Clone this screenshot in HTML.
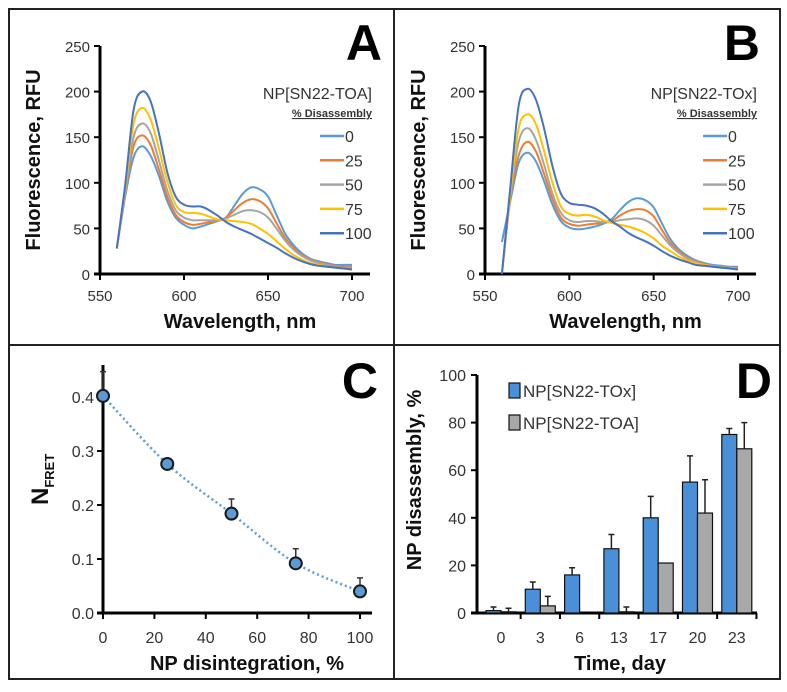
<!DOCTYPE html>
<html><head><meta charset="utf-8"><style>
html,body{margin:0;padding:0;background:#fff;}
svg{display:block;font-family:"Liberation Sans",sans-serif;}
.tk{font-size:15px;fill:#333;}
.nar{font-family:"Liberation Sans Narrow","Liberation Sans",sans-serif;font-size:16px;fill:#333;}
.ttl{font-size:20px;font-weight:bold;fill:#111;}
.big{font-size:50px;font-weight:bold;fill:#000;}
</style></head><body>
<svg id="fig" width="787" height="692" viewBox="0 0 787 692">
<rect x="9" y="9" width="771" height="670" fill="none" stroke="#222" stroke-width="2"/>
<line x1="394" y1="9" x2="394" y2="679" stroke="#222" stroke-width="2"/>
<line x1="9" y1="345" x2="780" y2="345" stroke="#222" stroke-width="2"/>
</svg>
<script>
const wl=[560,565,570,575,580,585,590,595,600,605,610,615,620,625,630,635,640,645,650,655,660,665,670,675,680,685,690,695,700];
const pctLabels=["0","25","50","75","100"];
const A0=[28,85,128,140,130,108,80,62,54,50,52,55,58,62,75,88,95,93,85,65,45,32,23,17,14,12,10,10,10];
const A25=[28,88,140,152,142,115,85,65,57,54,55,57,58,62,70,78,82,80,72,56,40,29,21,16,13,11,9,8,8];
const A50=[28,90,150,165,155,125,92,70,62,59,59,59,59,61,65,69,70,68,62,50,37,27,20,15,12,10,8,7,7];
const A75=[28,95,165,182,170,138,102,76,68,67,66,63,60,59,58,57,55,50,44,36,28,21,16,12,10,8,7,6,5];
const A100=[28,98,180,200,190,155,112,85,76,74,74,70,64,57,52,48,44,39,34,29,23,18,14,11,9,8,7,6,5];
const B0=[35,80,122,133,124,102,76,58,51,49,50,52,55,60,70,79,83,81,73,55,38,27,20,15,12,10,9,8,8];
const B25=[0,82,130,145,135,110,82,62,55,53,54,55,56,58,64,69,71,70,63,48,34,25,18,14,11,9,8,7,7];
const B50=[0,85,145,160,148,120,88,67,59,57,58,58,57,57,59,60,61,59,53,42,31,23,17,13,10,9,8,7,6];
const B75=[0,88,160,175,165,135,100,74,66,64,65,63,59,56,54,52,49,45,39,31,25,19,15,12,10,8,7,6,5];
const B100=[0,95,185,203,192,160,118,88,78,76,75,72,66,58,52,45,40,36,31,25,20,16,13,10,9,8,7,6,5];
const yTicksA=[0,50,100,150,200,250];
const xTicksA=[550,600,650,700];
const colors=["#5B9BD5","#ED7D31","#A5A5A5","#FFC000","#4472C4"];

const cDisint=[0,25,50,75,100];
const cNfret=[0.402,0.276,0.184,0.092,0.040];
const cErr=[0.045,0.005,0.027,0.027,0.025];
const cYTicks=[0.0,0.1,0.2,0.3,0.4];
const cYLabels=["0.0","0.1","0.2","0.3","0.4"];
const cXTicks=[0,20,40,60,80,100];

const dDays=["0","3","6","13","17","20","23"];
const dTOx=[1,10,16,27,40,55,75];
const dTOxErr=[1.5,3,3,6,9,11,2.5];
const dTOA=[0.5,3,0,0.5,21,42,69];
const dTOAErr=[1.5,4,0,2,0,14,11];
const dYTicks=[0,20,40,60,80,100];

const svg=document.getElementById('fig');
const NS='http://www.w3.org/2000/svg';
function mk(tag,attrs,txt){const e=document.createElementNS(NS,tag);for(const k in attrs)e.setAttribute(k,attrs[k]);if(txt!==undefined)e.textContent=txt;svg.appendChild(e);return e;}
function smooth(pts){
  let d='M'+pts[0][0].toFixed(1)+','+pts[0][1].toFixed(1);
  for(let i=0;i<pts.length-1;i++){
    const p0=pts[i-1]||pts[i],p1=pts[i],p2=pts[i+1],p3=pts[i+2]||p2;
    const c1=[p1[0]+(p2[0]-p0[0])/6,p1[1]+(p2[1]-p0[1])/6],c2=[p2[0]-(p3[0]-p1[0])/6,p2[1]-(p3[1]-p1[1])/6];
    d+=`C${c1[0].toFixed(1)},${c1[1].toFixed(1)} ${c2[0].toFixed(1)},${c2[1].toFixed(1)} ${p2[0].toFixed(1)},${p2[1].toFixed(1)}`;
  }
  return d;
}

function spectrum(ox,x1,title,series,letter,lx,lineX,letterX){
  const X=v=>ox+(v-550)*(x1-ox)/150, Y=v=>274-v*228/250;
  let e;
  e=mk('line',{x1:ox,y1:Y(250),x2:ox,y2:Y(0),stroke:'#000','stroke-width':3});
  
  
  e=mk('line',{x1:ox-6,y1:Y(0),x2:x1+18,y2:Y(0),stroke:'#000','stroke-width':3});
  
  
  yTicksA.forEach(t=>{
    e=mk('line',{x1:ox-6,y1:Y(t),x2:ox,y2:Y(t),stroke:'#000','stroke-width':2});
    
    
    e=mk('text',{x:ox-10,y:Y(t)+6,'text-anchor':'end',class:'tk'},t);
    
    
  });
  xTicksA.forEach(t=>{
    e=mk('line',{x1:X(t),y1:Y(0),x2:X(t),y2:Y(0)+6,stroke:'#000','stroke-width':2});
    
    
    e=mk('text',{x:X(t),y:Y(0)+27,'text-anchor':'middle',class:'tk'},t);
    
    
  });
  series.forEach((s,i)=>{
    const d=smooth(s.map((v,j)=>[X(wl[j]),Y(v)]));
    e=mk('path',{d:d,fill:'none',stroke:colors[i],'stroke-width':2,'stroke-linejoin':'round'});
    
    
    const ly=136+i*24.3;
    e=mk('line',{x1:lineX,y1:ly,x2:lineX+24,y2:ly,stroke:colors[i],'stroke-width':2.5});
    
    
    e=mk('text',{x:lineX+25,y:ly+6,class:'tk',style:'font-size:16px'},pctLabels[i]);
    
    
  });
  e=mk('text',{x:lx,y:99,'text-anchor':'end',class:'tk',style:'font-size:16px'},title);
  
  
  e=mk('text',{x:lx,y:117,'text-anchor':'end',class:'tk',style:'font-size:11px;font-weight:bold;text-decoration:underline'},'% Disassembly');
  
  
  e=mk('text',{x:(ox+x1)/2+14,y:328,'text-anchor':'middle',class:'ttl'},'Wavelength, nm');
  
  
  e=mk('text',{x:0,y:0,'text-anchor':'middle',class:'ttl',transform:`translate(${ox-60},160) rotate(-90)`},'Fluorescence, RFU');
  
  
  e=mk('text',{x:letterX,y:60,'text-anchor':'end',class:'big'},letter);
  
  
}
spectrum(100,352,'NP[SN22-TOA]',[A0,A25,A50,A75,A100],'A',372,320,382);
spectrum(485,738,'NP[SN22-TOx]',[B0,B25,B50,B75,B100],'B',757,703,760);

// Panel C
(function(){
  const ox=103,x1=360,X=v=>ox+v*(x1-ox)/100,Y=v=>613-v*540;
  let e;
  e=mk('line',{x1:ox,y1:Y(0.45)-5,x2:ox,y2:Y(0),stroke:'#000','stroke-width':3});
  
  
  e=mk('line',{x1:ox-6,y1:Y(0),x2:x1+12,y2:Y(0),stroke:'#000','stroke-width':3});
  
  
  cYTicks.forEach((t,i)=>{
    e=mk('line',{x1:ox-6,y1:Y(t),x2:ox,y2:Y(t),stroke:'#000','stroke-width':2});
    
    
    e=mk('text',{x:ox-9,y:Y(t)+6,'text-anchor':'end',class:'nar'},cYLabels[i]);
    
    
  });
  cXTicks.forEach(t=>{
    e=mk('line',{x1:X(t),y1:Y(0),x2:X(t),y2:Y(0)+6,stroke:'#000','stroke-width':2});
    
    
    e=mk('text',{x:X(t),y:Y(0)+30,'text-anchor':'middle',class:'nar'},t);
    
    
  });
  const d=smooth(cDisint.map((v,j)=>[X(v),Y(cNfret[j])]));
  e=mk('path',{d:d,fill:'none',stroke:'#5B9BD5','stroke-width':2.5,'stroke-dasharray':'2,3'});
  
  
  cDisint.forEach((v,j)=>{
    e=mk('path',{d:`M${X(v)},${Y(cNfret[j])}V${Y(cNfret[j]+cErr[j])}M${X(v)-3},${Y(cNfret[j]+cErr[j])}h6`,stroke:'#333','stroke-width':1.5});
    
    
    e=mk('circle',{cx:X(v),cy:Y(cNfret[j]),r:6,fill:'#5B9BD5',stroke:'#1a1a1a','stroke-width':2});
    
    
  });
  e=mk('text',{x:247,y:670,'text-anchor':'middle',class:'ttl'},'NP disintegration, %');
  
  
  const t=mk('text',{x:0,y:0,class:'ttl',transform:'translate(48,505) rotate(-90)',style:'font-size:24px'});
  t.innerHTML='N<tspan style="font-size:13px" dy="6">FRET</tspan>';
  
  
  e=mk('text',{x:378,y:398,'text-anchor':'end',class:'big'},'C');
  
  
})();

// Panel D
(function(){
  const ox=477,Y=v=>613-v*2.38,bw=15,sp=39.3,c0=501;
  const cx=i=>c0+i*sp;
  let e;
  e=mk('line',{x1:ox,y1:Y(100),x2:ox,y2:Y(0),stroke:'#000','stroke-width':3});
  
  
  e=mk('line',{x1:ox-6,y1:Y(0),x2:757,y2:Y(0),stroke:'#000','stroke-width':3});
  
  
  dYTicks.forEach(t=>{
    e=mk('line',{x1:ox-6,y1:Y(t),x2:ox,y2:Y(t),stroke:'#000','stroke-width':2});
    
    
    e=mk('text',{x:ox-11,y:Y(t)+6,'text-anchor':'end',class:'nar'},t);
    
    
  });
  dDays.forEach((d,i)=>{
    e=mk('line',{x1:cx(i)+sp/2,y1:Y(0),x2:cx(i)+sp/2,y2:Y(0)+6,stroke:'#000','stroke-width':2});
    
    
    e=mk('text',{x:cx(i),y:Y(0)+30,'text-anchor':'middle',class:'nar'},d);
    
    
    [[dTOx,dTOxErr,'#4A90D9',-bw,'bar-tox-day-'],[dTOA,dTOAErr,'#A8A8A8',0,'bar-toa-day-']].forEach(([vals,errs,col,off,nm])=>{
      const v=vals[i],x=cx(i)+off;
      e=mk('rect',{x:x,y:Y(v),width:bw,height:Y(0)-Y(v),fill:col,stroke:'#111','stroke-width':1.2});
      
      
      if(errs[i]>0){
        e=mk('path',{d:`M${x+bw/2},${Y(v)}V${Y(v+errs[i])}M${x+bw/2-3},${Y(v+errs[i])}h6`,stroke:'#222','stroke-width':1.5});
        
        
      }
    });
  });
  [['#4A90D9','NP[SN22-TOx]',391],['#A8A8A8','NP[SN22-TOA]',423]].forEach(([c,l,y])=>{
    e=mk('rect',{x:509,y:y-8,width:11,height:15,fill:c,stroke:'#111','stroke-width':1.2});
    
    
    e=mk('text',{x:523,y:y+6,class:'nar',style:'font-size:17px'},l);
    
    
  });
  e=mk('text',{x:620,y:670,'text-anchor':'middle',class:'ttl'},'Time, day');
  
  
  e=mk('text',{x:0,y:0,'text-anchor':'middle',class:'ttl',transform:'translate(421,480) rotate(-90)'},'NP disassembly, %');
  
  
  e=mk('text',{x:772,y:398,'text-anchor':'end',class:'big'},'D');
  
  
})();
</script>
</body></html>
